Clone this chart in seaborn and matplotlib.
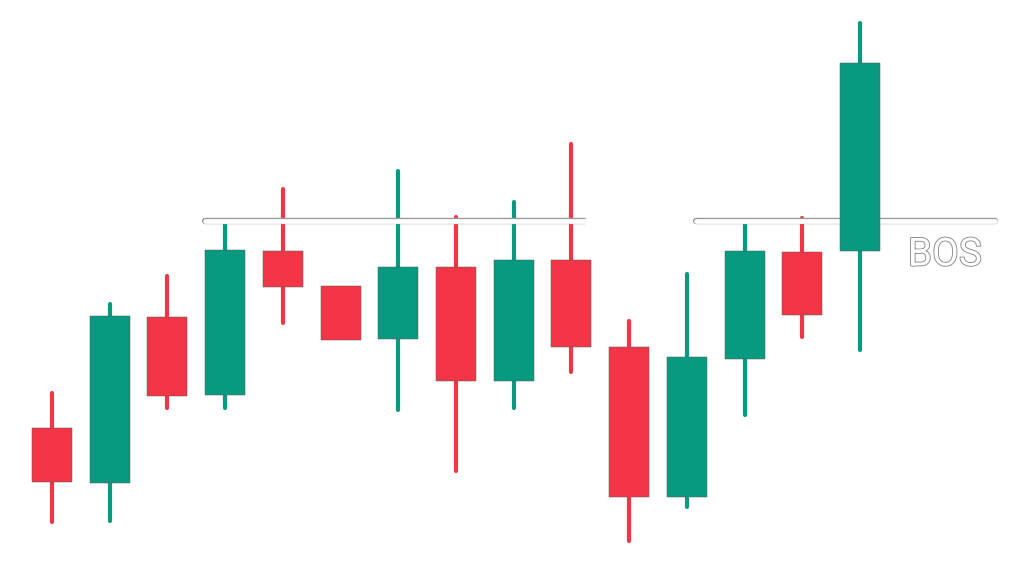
import numpy as np
import pandas as pd
import seaborn as sns
import matplotlib
matplotlib.use("Agg")
import matplotlib.pyplot as plt
import matplotlib.patheffects as pe

# Candle data (price units)
opens  = [147, 92, 258, 180, 324, 289, 236, 308, 194, 315, 228, 78, 216, 323, 324]
closes = [93, 259, 179, 325, 288, 235, 308, 194, 315, 228, 78, 218, 324, 260, 512]
highs  = [182, 271, 299, 353, 386, 287, 404, 358, 373, 431, 254, 301, 352, 357, 552]
lows   = [53, 54, 167, 167, 252, 237, 165, 104, 167, 203, 34, 68, 160, 238, 225]

bos_level = 354
bos_label = "BOS"

UP = "#089981"
DOWN = "#F23645"

sns.set_style("white")
plt.rcParams['font.family'] = ['Roboto', 'DejaVu Sans']

df = pd.DataFrame({"open": opens, "close": closes, "high": highs, "low": lows})
df["x"] = np.arange(len(df))
df["up"] = df["close"] >= df["open"]
df["color"] = np.where(df["up"], UP, DOWN)

fig = plt.figure(figsize=(10.24, 5.75), dpi=100)
ax = fig.add_axes([0, 0, 1, 1])

# wicks
ax.vlines(df["x"], df["low"], df["high"], colors=df["color"], linewidth=3.0,
          capstyle="round", zorder=1)
# bodies
bot = np.minimum(df["open"], df["close"])
h = np.abs(df["close"] - df["open"])
ax.bar(df["x"], h, bottom=bot, width=0.693, color=df["color"],
       edgecolor="#5a5a5a", linewidth=0.35, zorder=3)

# BOS line
outline = [pe.Stroke(linewidth=4.6, foreground="#9a9a9a"), pe.Normal()]
ax.plot([2.65, 9.24], [bos_level, bos_level], color="white", linewidth=3.4,
        solid_capstyle="round", path_effects=outline, zorder=2)
ax.plot([9.24, 11.16], [bos_level, bos_level], color="white", linewidth=4.8,
        solid_capstyle="butt", zorder=2)
ax.plot([11.16, 16.34], [bos_level, bos_level], color="white", linewidth=3.4,
        solid_capstyle="round", path_effects=outline, zorder=2)

ax.text(15.47, 320, bos_label, color="white", fontsize=28, ha="center",
        va="center", zorder=4,
        path_effects=[pe.Stroke(linewidth=1.2, foreground="#808080"), pe.Normal()])

ax.set_xlim(-0.901, 16.842)
ax.set_ylim(0, 575)
ax.axis("off")
sns.despine(ax=ax, left=True, bottom=True)

fig.savefig("out.png", dpi=100, facecolor="white")
